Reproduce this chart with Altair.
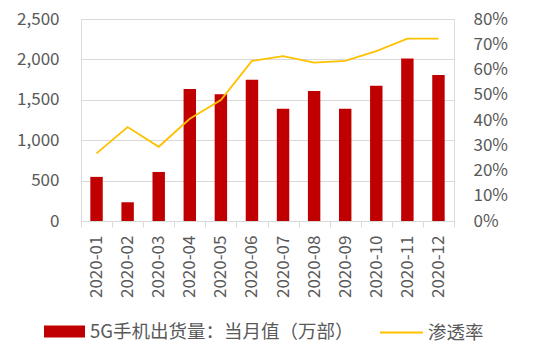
import altair as alt
import pandas as pd

months = ["2020-01", "2020-02", "2020-03", "2020-04", "2020-05", "2020-06",
          "2020-07", "2020-08", "2020-09", "2020-10", "2020-11", "2020-12"]
shipments = [546, 232, 607, 1634, 1570, 1748, 1388, 1610, 1388, 1675, 2010, 1808]
penetration = [0.268, 0.372, 0.294, 0.405, 0.479, 0.634, 0.653, 0.627, 0.634, 0.673, 0.722, 0.722]
bar_name = "5G手机出货量：当月值（万部）"
line_name = "渗透率"

df = pd.DataFrame({
    "month": months,
    "shipments": shipments,
    "penetration": penetration,
    "bar_series": [bar_name] * len(months),
    "line_series": [line_name] * len(months),
})

FONT = "Noto Sans CJK SC"
LABEL_COLOR = "#595959"
GRID = "#D9D9D9"

x = alt.X("month:N", sort=months, title=None,
          scale=alt.Scale(paddingInner=0, paddingOuter=0),
          axis=alt.Axis(labelAngle=270, labelFont=FONT, labelFontSize=17,
                        labelColor=LABEL_COLOR, domainColor=GRID, tickColor=GRID,
                        tickSize=6, tickBand="extent", labelPadding=8, grid=False))

bars = alt.Chart(df).mark_bar(width=alt.RelativeBandSize(0.4)).encode(
    x=x,
    y=alt.Y("shipments:Q", title=None,
            scale=alt.Scale(domain=[0, 2500], nice=False),
            axis=alt.Axis(values=[0, 500, 1000, 1500, 2000, 2500], format=",.0f",
                          labelFont=FONT, labelFontSize=17, labelColor=LABEL_COLOR,
                          domain=False, ticks=False, labelPadding=22,
                          gridColor=GRID, gridWidth=1)),
    color=alt.Color("bar_series:N", title=None,
                    scale=alt.Scale(range=["#C00000"]),
                    legend=alt.Legend(orient="none", legendX=-37, legendY=292,
                                      padding=0,
                                      symbolType="M-1,-0.29L1,-0.29L1,0.29L-1,0.29Z",
                                      symbolSize=1681, symbolStrokeWidth=0,
                                      symbolOpacity=1,
                                      labelFont=FONT, labelFontSize=18.5,
                                      labelColor=LABEL_COLOR, labelOffset=5,
                                      labelLimit=400)),
)

line = alt.Chart(df).mark_line(strokeWidth=1.8).encode(
    x=x,
    y=alt.Y("penetration:Q", title=None,
            scale=alt.Scale(domain=[0, 0.8], nice=False),
            axis=alt.Axis(orient="right", values=[0, 0.1, 0.2, 0.3, 0.4, 0.5, 0.6, 0.7, 0.8],
                          format=".0%", labelFont=FONT, labelFontSize=17,
                          labelColor=LABEL_COLOR, domain=False, ticks=False,
                          labelPadding=19, grid=False)),
    stroke=alt.Stroke("line_series:N", title=None,
                      scale=alt.Scale(range=["#FFC000"]),
                      legend=alt.Legend(orient="none", legendX=298, legendY=291,
                                        padding=0, symbolType="stroke",
                                        symbolSize=1849, symbolStrokeWidth=1.8,
                                        labelFont=FONT, labelFontSize=18.5,
                                        labelColor=LABEL_COLOR, labelOffset=4,
                                        labelLimit=400)),
)

chart = alt.layer(bars, line).resolve_scale(y="independent").properties(
    width=373, height=202,
    autosize=alt.AutoSizeParams(type="none"),
    padding={"left": 73, "top": 11, "right": 70, "bottom": 120},
).configure_view(stroke=None).configure(background="white")

chart.save("out.html", embed_options={"renderer": "svg", "actions": False})
